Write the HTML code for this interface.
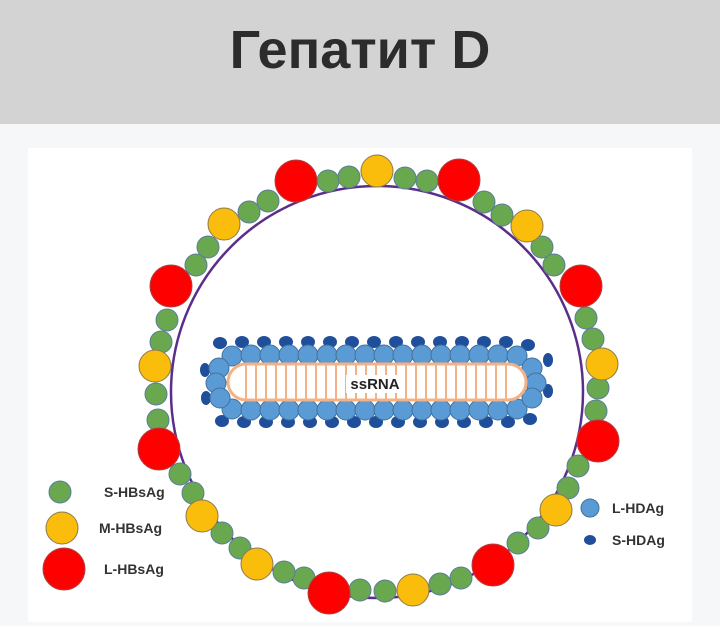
<!DOCTYPE html>
<html><head><meta charset="utf-8"><style>
body{margin:0;width:720px;height:626px;background:#f6f7f9;overflow:hidden;font-family:"Liberation Sans",sans-serif}
.hdr{position:absolute;left:0;top:0;width:720px;height:124px;background:#d3d3d3;text-align:center}
.hdr h1{margin:0;line-height:100px;font-size:54px;font-weight:bold;color:#2c2c2c;font-family:"Liberation Sans","DejaVu Sans",sans-serif}
svg{position:absolute;left:0;top:0}
</style></head><body>
<div class="hdr"><h1>Гепатит D</h1></div>
<svg width="720" height="626" viewBox="0 0 720 626">
<rect x="28" y="148" width="664" height="474" fill="#fff"/>
<circle cx="377" cy="392" r="206" fill="none" stroke="#5b2e8a" stroke-width="2.5"/>
<g stroke="#5a7d9a" stroke-width="1" fill="#6aa84f">
<circle cx="328" cy="181" r="11"/><circle cx="349" cy="177" r="11"/><circle cx="405" cy="178" r="11"/><circle cx="427" cy="181" r="11"/>
<circle cx="484" cy="202" r="11"/><circle cx="502" cy="215" r="11"/><circle cx="542" cy="247" r="11"/><circle cx="554" cy="265" r="11"/>
<circle cx="593" cy="339" r="11"/><circle cx="598" cy="388" r="11"/><circle cx="596" cy="411" r="11"/><circle cx="578" cy="466" r="11"/>
<circle cx="568" cy="488" r="11"/><circle cx="538" cy="528" r="11"/><circle cx="518" cy="543" r="11"/><circle cx="461" cy="578" r="11"/>
<circle cx="440" cy="584" r="11"/><circle cx="385" cy="591" r="11"/><circle cx="360" cy="590" r="11"/><circle cx="304" cy="578" r="11"/>
<circle cx="284" cy="572" r="11"/><circle cx="240" cy="548" r="11"/><circle cx="222" cy="533" r="11"/><circle cx="193" cy="493" r="11"/>
<circle cx="180" cy="474" r="11"/><circle cx="158" cy="420" r="11"/><circle cx="156" cy="394" r="11"/><circle cx="161" cy="342" r="11"/>
<circle cx="167" cy="320" r="11"/><circle cx="196" cy="265" r="11"/><circle cx="208" cy="247" r="11"/><circle cx="249" cy="212" r="11"/>
<circle cx="268" cy="201" r="11"/><circle cx="586" cy="318" r="11"/>
<circle cx="60" cy="492" r="11"/>
</g>
<g stroke="#8a7a50" stroke-width="1" fill="#fbbd0b">
<circle cx="377" cy="171" r="16"/><circle cx="527" cy="226" r="16"/><circle cx="602" cy="364" r="16"/><circle cx="556" cy="510" r="16"/>
<circle cx="413" cy="590" r="16"/><circle cx="257" cy="564" r="16"/><circle cx="202" cy="516" r="16"/><circle cx="155" cy="366" r="16"/>
<circle cx="224" cy="224" r="16"/><circle cx="62" cy="528" r="16"/>
</g>
<g stroke="#b04040" stroke-width="1" fill="#f00">
<circle cx="296" cy="181" r="21"/><circle cx="459" cy="180" r="21"/><circle cx="581" cy="286" r="21"/><circle cx="598" cy="441" r="21"/>
<circle cx="493" cy="565" r="21"/><circle cx="329" cy="593" r="21"/><circle cx="159" cy="449" r="21"/><circle cx="171" cy="286" r="21"/>
<circle cx="64" cy="569" r="21"/>
</g>
<g font-family="Liberation Sans,sans-serif" font-weight="bold" font-size="14" fill="#333">
<text x="104" y="497">S-HBsAg</text><text x="99" y="533">M-HBsAg</text><text x="104" y="574">L-HBsAg</text>
<text x="612" y="513">L-HDAg</text><text x="612" y="545">S-HDAg</text>
</g>
<circle cx="590" cy="508" r="9" fill="#5b9bd5" stroke="#41719c"/>
<ellipse cx="590" cy="540" rx="6" ry="5" fill="#1f4e9a"/>
<g fill="#1f4e9a">
<ellipse cx="220" cy="343" rx="7" ry="6"/><ellipse cx="242" cy="342" rx="7" ry="6"/><ellipse cx="264" cy="342" rx="7" ry="6"/><ellipse cx="286" cy="342" rx="7" ry="6"/>
<ellipse cx="308" cy="342" rx="7" ry="6"/><ellipse cx="330" cy="342" rx="7" ry="6"/><ellipse cx="352" cy="342" rx="7" ry="6"/><ellipse cx="374" cy="342" rx="7" ry="6"/>
<ellipse cx="396" cy="342" rx="7" ry="6"/><ellipse cx="418" cy="342" rx="7" ry="6"/><ellipse cx="440" cy="342" rx="7" ry="6"/><ellipse cx="462" cy="342" rx="7" ry="6"/>
<ellipse cx="484" cy="342" rx="7" ry="6"/><ellipse cx="506" cy="342" rx="7" ry="6"/><ellipse cx="528" cy="345" rx="7" ry="6"/>
<ellipse cx="222" cy="421" rx="7" ry="6"/><ellipse cx="244" cy="422" rx="7" ry="6"/><ellipse cx="266" cy="422" rx="7" ry="6"/><ellipse cx="288" cy="422" rx="7" ry="6"/>
<ellipse cx="310" cy="422" rx="7" ry="6"/><ellipse cx="332" cy="422" rx="7" ry="6"/><ellipse cx="354" cy="422" rx="7" ry="6"/><ellipse cx="376" cy="422" rx="7" ry="6"/>
<ellipse cx="398" cy="422" rx="7" ry="6"/><ellipse cx="420" cy="422" rx="7" ry="6"/><ellipse cx="442" cy="422" rx="7" ry="6"/><ellipse cx="464" cy="422" rx="7" ry="6"/>
<ellipse cx="486" cy="422" rx="7" ry="6"/><ellipse cx="508" cy="422" rx="7" ry="6"/><ellipse cx="530" cy="419" rx="7" ry="6"/>
<ellipse cx="205" cy="370" rx="5" ry="7"/><ellipse cx="206" cy="398" rx="5" ry="7"/><ellipse cx="548" cy="360" rx="5" ry="7"/><ellipse cx="548" cy="391" rx="5" ry="7"/>
</g>
<g fill="#5b9bd5" stroke="#41719c" stroke-width="1">
<circle cx="232" cy="356" r="10"/><circle cx="251" cy="355" r="10"/><circle cx="270" cy="355" r="10"/><circle cx="289" cy="355" r="10"/>
<circle cx="308" cy="355" r="10"/><circle cx="327" cy="355" r="10"/><circle cx="346" cy="355" r="10"/><circle cx="365" cy="355" r="10"/>
<circle cx="384" cy="355" r="10"/><circle cx="403" cy="355" r="10"/><circle cx="422" cy="355" r="10"/><circle cx="441" cy="355" r="10"/>
<circle cx="460" cy="355" r="10"/><circle cx="479" cy="355" r="10"/><circle cx="498" cy="355" r="10"/><circle cx="517" cy="356" r="10"/>
<circle cx="232" cy="409" r="10"/><circle cx="251" cy="410" r="10"/><circle cx="270" cy="410" r="10"/><circle cx="289" cy="410" r="10"/>
<circle cx="308" cy="410" r="10"/><circle cx="327" cy="410" r="10"/><circle cx="346" cy="410" r="10"/><circle cx="365" cy="410" r="10"/>
<circle cx="384" cy="410" r="10"/><circle cx="403" cy="410" r="10"/><circle cx="422" cy="410" r="10"/><circle cx="441" cy="410" r="10"/>
<circle cx="460" cy="410" r="10"/><circle cx="479" cy="410" r="10"/><circle cx="498" cy="410" r="10"/><circle cx="517" cy="409" r="10"/>
<circle cx="219" cy="368" r="10"/><circle cx="216" cy="383" r="10"/><circle cx="220" cy="398" r="10"/>
<circle cx="532" cy="368" r="10"/><circle cx="536" cy="383" r="10"/><circle cx="532" cy="398" r="10"/>
</g>
<rect x="228" y="364" width="298" height="36" rx="18" fill="#fff" stroke="#f4b183" stroke-width="3"/>
<g stroke="#f4b183" stroke-width="2">
<line x1="246" y1="365" x2="246" y2="399"/><line x1="256" y1="365" x2="256" y2="399"/><line x1="266" y1="365" x2="266" y2="399"/><line x1="276" y1="365" x2="276" y2="399"/>
<line x1="286" y1="365" x2="286" y2="399"/><line x1="296" y1="365" x2="296" y2="399"/><line x1="306" y1="365" x2="306" y2="399"/><line x1="316" y1="365" x2="316" y2="399"/>
<line x1="326" y1="365" x2="326" y2="399"/><line x1="336" y1="365" x2="336" y2="399"/><line x1="346" y1="365" x2="346" y2="399"/><line x1="356" y1="365" x2="356" y2="399"/>
<line x1="366" y1="365" x2="366" y2="399"/><line x1="376" y1="365" x2="376" y2="399"/><line x1="386" y1="365" x2="386" y2="399"/><line x1="396" y1="365" x2="396" y2="399"/>
<line x1="406" y1="365" x2="406" y2="399"/><line x1="416" y1="365" x2="416" y2="399"/><line x1="426" y1="365" x2="426" y2="399"/><line x1="436" y1="365" x2="436" y2="399"/>
<line x1="446" y1="365" x2="446" y2="399"/><line x1="456" y1="365" x2="456" y2="399"/><line x1="466" y1="365" x2="466" y2="399"/><line x1="476" y1="365" x2="476" y2="399"/>
<line x1="486" y1="365" x2="486" y2="399"/><line x1="496" y1="365" x2="496" y2="399"/><line x1="506" y1="365" x2="506" y2="399"/>
</g>
<rect x="346" y="375" width="58" height="18" fill="#fff"/>
<text x="375" y="389" text-anchor="middle" font-family="Liberation Sans,sans-serif" font-weight="bold" font-size="15" fill="#222">ssRNA</text>
</svg>
</body></html>
